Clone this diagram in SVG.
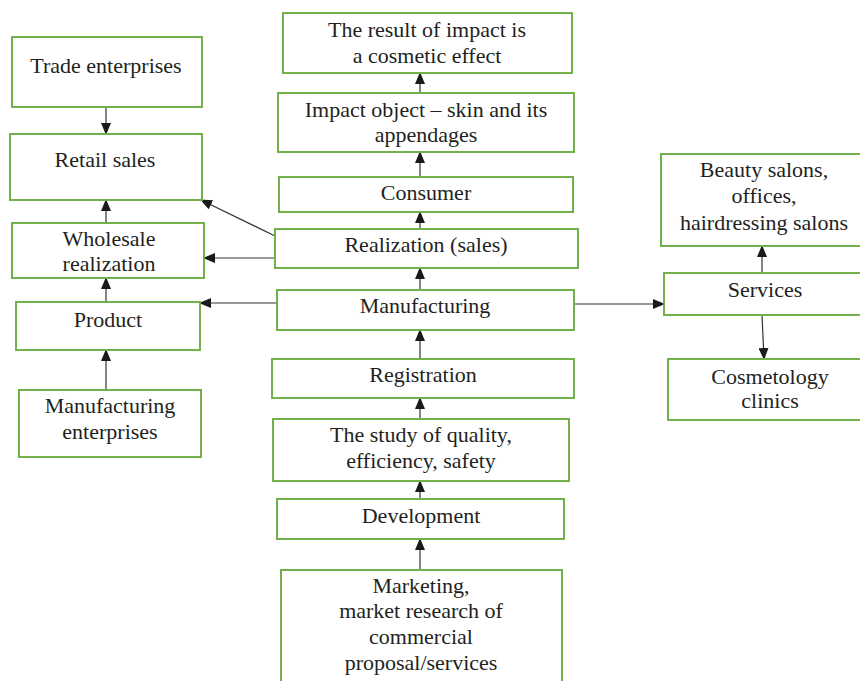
<svg xmlns="http://www.w3.org/2000/svg" width="860" height="681" viewBox="0 0 860 681">
<style>
.nbox{fill:#fff;stroke:#72b04a;stroke-width:2}
.nlabel{font-family:'Liberation Serif','Times New Roman',serif;font-size:22px;fill:#231f20;text-anchor:middle}
.conn{stroke:#333;stroke-width:1.2;fill:none;marker-end:url(#ah)}
</style>
<defs>
<marker id="ah" markerWidth="12" markerHeight="10" refX="11" refY="5" orient="auto" markerUnits="userSpaceOnUse">
<path d="M0,0 L12,5 L0,10 Z" fill="#1a1a1a"/>
</marker>
</defs>
<rect width="860" height="681" fill="#fff"/>
<g id="connectors">
<line class="conn" x1="106" y1="107" x2="106" y2="134"/>
<line class="conn" x1="106" y1="223" x2="106" y2="200"/>
<line class="conn" x1="106" y1="302" x2="106" y2="278"/>
<line class="conn" x1="106" y1="390" x2="106" y2="350"/>
<line class="conn" x1="275" y1="236" x2="201" y2="200"/>
<line class="conn" x1="275" y1="258" x2="204" y2="258"/>
<line class="conn" x1="277" y1="303" x2="200" y2="303"/>
<line class="conn" x1="574" y1="304" x2="664" y2="304"/>
<line class="conn" x1="762" y1="273" x2="762" y2="246"/>
<line class="conn" x1="762" y1="315" x2="764" y2="359"/>
<line class="conn" x1="420" y1="93" x2="420" y2="73"/>
<line class="conn" x1="420" y1="177" x2="420" y2="152"/>
<line class="conn" x1="420" y1="229" x2="420" y2="212"/>
<line class="conn" x1="420" y1="290" x2="420" y2="268"/>
<line class="conn" x1="420" y1="359" x2="420" y2="330"/>
<line class="conn" x1="420" y1="419" x2="420" y2="398"/>
<line class="conn" x1="420" y1="499" x2="420" y2="481"/>
<line class="conn" x1="420" y1="570" x2="420" y2="539"/>
</g>
<g id="nodes">
<g id="trade"><rect class="nbox" x="12" y="37" width="190" height="70"/><text class="nlabel" x="106" y="73">Trade enterprises</text></g>
<g id="retail"><rect class="nbox" x="10" y="134" width="192" height="66"/><text class="nlabel" x="105" y="167">Retail sales</text></g>
<g id="wholesale"><rect class="nbox" x="12" y="223" width="192" height="55"/><text class="nlabel" x="109" y="246">Wholesale</text><text class="nlabel" x="109" y="271">realization</text></g>
<g id="product"><rect class="nbox" x="16" y="302" width="184" height="48"/><text class="nlabel" x="108" y="327">Product</text></g>
<g id="manuf-ent"><rect class="nbox" x="19" y="390" width="182" height="67"/><text class="nlabel" x="110" y="413">Manufacturing</text><text class="nlabel" x="110" y="439">enterprises</text></g>
<g id="result"><rect class="nbox" x="283" y="13" width="289" height="60"/><text class="nlabel" x="427" y="37">The result of impact is</text><text class="nlabel" x="427" y="63">a cosmetic effect</text></g>
<g id="impact"><rect class="nbox" x="278" y="93" width="296" height="59"/><text class="nlabel" x="426" y="117">Impact object – skin and its</text><text class="nlabel" x="426" y="142">appendages</text></g>
<g id="consumer"><rect class="nbox" x="279" y="177" width="294" height="35"/><text class="nlabel" x="426" y="200">Consumer</text></g>
<g id="realization"><rect class="nbox" x="275" y="229" width="303" height="39"/><text class="nlabel" x="426" y="252">Realization (sales)</text></g>
<g id="manufacturing"><rect class="nbox" x="277" y="290" width="297" height="40"/><text class="nlabel" x="425" y="313">Manufacturing</text></g>
<g id="registration"><rect class="nbox" x="272" y="359" width="302" height="39"/><text class="nlabel" x="423" y="382">Registration</text></g>
<g id="study"><rect class="nbox" x="273" y="419" width="296" height="62"/><text class="nlabel" x="421" y="442">The study of quality,</text><text class="nlabel" x="421" y="468">efficiency, safety</text></g>
<g id="development"><rect class="nbox" x="277" y="499" width="287" height="40"/><text class="nlabel" x="421" y="523">Development</text></g>
<g id="marketing"><rect class="nbox" x="281" y="570" width="281" height="115"/><text class="nlabel" x="421" y="593">Marketing,</text><text class="nlabel" x="421" y="618">market research of</text><text class="nlabel" x="421" y="644">commercial</text><text class="nlabel" x="421" y="670">proposal/services</text></g>
<g id="beauty"><rect class="nbox" x="661" y="154" width="205" height="92"/><text class="nlabel" x="764" y="177">Beauty salons,</text><text class="nlabel" x="764" y="203">offices,</text><text class="nlabel" x="764" y="230">hairdressing salons</text></g>
<g id="services"><rect class="nbox" x="664" y="273" width="202" height="42"/><text class="nlabel" x="765" y="297">Services</text></g>
<g id="clinics"><rect class="nbox" x="668" y="359" width="198" height="61"/><text class="nlabel" x="770" y="384">Cosmetology</text><text class="nlabel" x="770" y="408">clinics</text></g>
</g>
</svg>
